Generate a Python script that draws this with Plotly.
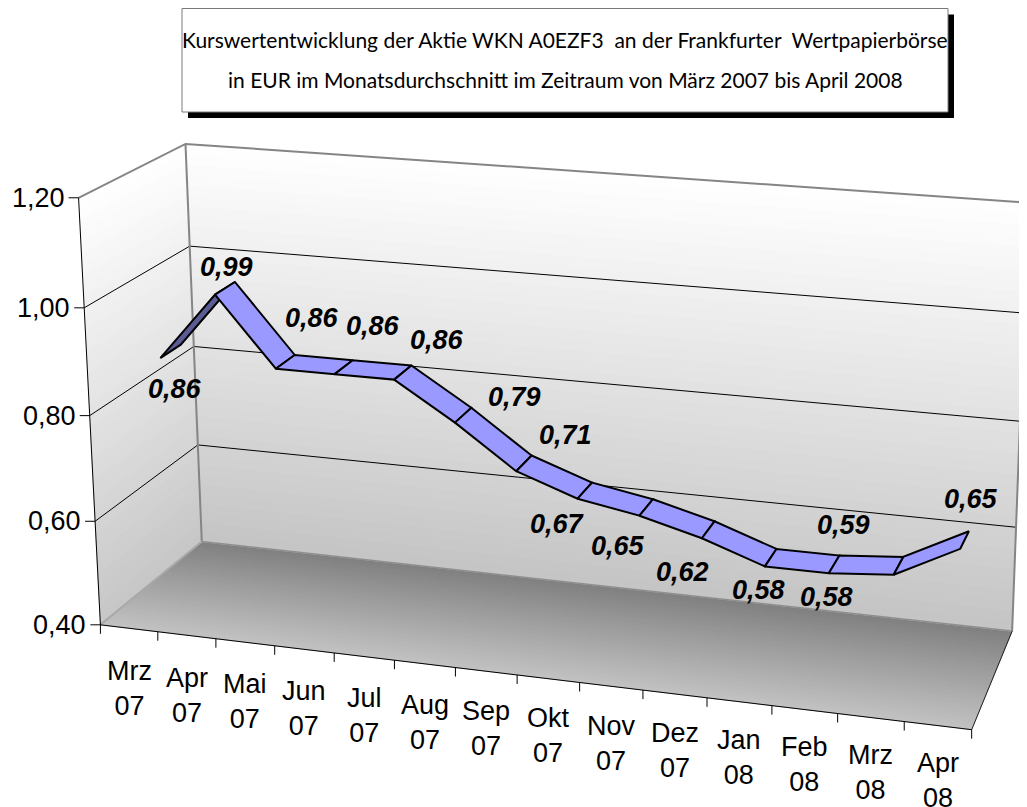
import numpy as np
import plotly.graph_objects as go

# ---------------- data ----------------
categories = ["Mrz 07", "Apr 07", "Mai 07", "Jun 07", "Jul 07", "Aug 07", "Sep 07",
              "Okt 07", "Nov 07", "Dez 07", "Jan 08", "Feb 08", "Mrz 08", "Apr 08"]
values = [0.86, 0.99, 0.86, 0.86, 0.86, 0.79, 0.71, 0.67, 0.65, 0.62, 0.58, 0.58, 0.59, 0.65]
value_ticks = [0.40, 0.60, 0.80, 1.00, 1.20]
title_line1 = "Kurswertentwicklung der Aktie WKN A0EZF3\u00a0 an der Frankfurter\u00a0 Wertpapierbörse"
title_line2 = "in EUR im Monatsdurchschnitt im Zeitraum von März 2007 bis April 2008"

# ---------------- layout / styling ----------------
W, H = 1027, 807
PAGE_OFF = 8                   # default page margin of the html body
VMIN, VMAX = value_ticks[0], value_ticks[-1]
NCAT = len(categories)
RIB_Z = (0.40, 0.60)          # depth band occupied by the ribbon
FONT = "Liberation Sans, Arial, sans-serif"
# label offsets (px) relative to ribbon centre
label_offsets = [(2, 38), (0, -21), (25, -44), (27, -41), (32, -33), (49, -18), (40, -28),
                 (-29, 33), (-30, 39), (-28, 42), (-14, 32), (-10, 33), (-57, -41), (4, -41)]

# 3-D box calibration: world (category pos, value, depth) -> screen pixel
calib_world = [(0, 0.4, 0), (0, 1.2, 0), (0, 1.0, 0), (0, 0.4, 1), (0, 1.2, 1), (0, 1.0, 1),
               (0, 0.6, 1), (14, 0.4, 0), (7, 0.4, 0), (14, 0.4, 1), (14, 0.6, 1), (14, 1.0, 1)]
calib_px = [(100, 625), (79, 198), (84, 308), (202, 541), (185, 143), (190, 247),
            (198, 445), (972, 729), (517, 675), (1012, 632), (1016, 527), (1024, 313)]


def norm_world(X, V, Z):
    return X / NCAT, (V - VMIN) / (VMAX - VMIN), Z


rows = []
for (X, V, Z), (u, w) in zip(calib_world, calib_px):
    a, b, c = norm_world(X, V, Z)
    u, w = u / 1000.0, w / 1000.0
    rows.append([a, b, c, 1, 0, 0, 0, 0, -u * a, -u * b, -u * c, -u])
    rows.append([0, 0, 0, 0, a, b, c, 1, -w * a, -w * b, -w * c, -w])
_, _, vt = np.linalg.svd(np.array(rows))
P = vt[-1].reshape(3, 4)


def proj(X, V, Z):
    a, b, c = norm_world(X, V, Z)
    r = P @ np.array([a, b, c, 1.0])
    return r[0] / r[2] * 1000.0, r[1] / r[2] * 1000.0


fig = go.Figure()


def poly(pts, fill, line_color=None, width=1.0):
    xs = [p[0] for p in pts] + [pts[0][0]]
    ys = [p[1] for p in pts] + [pts[0][1]]
    fig.add_trace(go.Scatter(x=xs, y=ys, mode="lines", fill="toself", fillcolor=fill,
                             line=dict(color=line_color or fill, width=width),
                             hoverinfo="skip", showlegend=False))


def seg(pts, color, width):
    fig.add_trace(go.Scatter(x=[p[0] for p in pts], y=[p[1] for p in pts], mode="lines",
                             line=dict(color=color, width=width),
                             hoverinfo="skip", showlegend=False))


def grey(level):
    g = int(round(level))
    return f"rgb({g},{g},{g})"


NS = 40
# floor (gradient along depth)
for k in range(NS):
    z0, z1 = k / NS, (k + 1) / NS
    col = grey(194 - (194 - 128) * (k + 0.5) / NS)
    poly([proj(0, VMIN, z0), proj(NCAT, VMIN, z0), proj(NCAT, VMIN, z1), proj(0, VMIN, z1)], col)
# back wall and left wall (gradient along value)
for k in range(NS):
    v0 = VMIN + (VMAX - VMIN) * k / NS
    v1 = VMIN + (VMAX - VMIN) * (k + 1) / NS
    col = grey(196 + (255 - 196) * (k + 0.5) / NS)
    poly([proj(0, v0, 1), proj(NCAT, v0, 1), proj(NCAT, v1, 1), proj(0, v1, 1)], col)
    col2 = grey(198 + (255 - 198) * (k + 0.5) / NS)
    poly([proj(0, v0, 0), proj(0, v0, 1), proj(0, v1, 1), proj(0, v1, 0)], col2)

# gridlines
for v in value_ticks[1:-1]:
    seg([proj(0, v, 0), proj(0, v, 1), proj(NCAT, v, 1)], "black", 1)

# box edges
edge_grey = "#858585"
seg([proj(0, VMAX, 0), proj(0, VMAX, 1), proj(NCAT, VMAX, 1)], edge_grey, 2)
seg([proj(0, VMIN, 1), proj(0, VMAX, 1)], edge_grey, 2)
seg([proj(NCAT, VMIN, 1), proj(NCAT, VMAX, 1)], edge_grey, 2)
seg([proj(0, VMIN, 0), proj(0, VMIN, 1)], "#a8a8a8", 2)
seg([proj(0, VMIN, 1), proj(NCAT, VMIN, 1)], "#8f8f8f", 1.5)
seg([proj(NCAT, VMIN, 0), proj(NCAT, VMIN, 1)], "#222222", 1)
# axes (front edges)
seg([proj(0, VMIN, 0), proj(0, VMAX, 0)], "black", 1)
seg([proj(0, VMIN, 0), proj(NCAT, VMIN, 0)], "black", 1)

# value ticks + labels
annotations = []
for v in value_ticks:
    u, w = proj(0, v, 0)
    seg([(u - 10, w), (u, w)], "black", 1)
    annotations.append(dict(x=u, y=w, xref="x", yref="y", text=f"{v:.2f}".replace(".", ","),
                            showarrow=False, xanchor="right", yanchor="middle", xshift=-12,
                            font=dict(family=FONT, size=27, color="black")))
# category ticks + labels
for i in range(NCAT + 1):
    u, w = proj(i, VMIN, 0)
    seg([(u, w), (u, w + 9)], "black", 1)
for i, c in enumerate(categories):
    u, w = proj(i + 0.5, VMIN, 0)
    drop = 20 + 6 * (1 - i / (NCAT - 1))
    annotations.append(dict(x=u, y=w, xref="x", yref="y", text=c.replace(" ", "<br>"),
                            showarrow=False, xanchor="center", yanchor="top", yshift=-drop,
                            align="center",
                            font=dict(family=FONT, size=27, color="black")))

# ribbon
front = [proj(i + 0.5, v, RIB_Z[0]) for i, v in enumerate(values)]
back = [proj(i + 0.5, v, RIB_Z[1]) for i, v in enumerate(values)]
for i in range(NCAT - 1):
    pts = [front[i], front[i + 1], back[i + 1], back[i]]
    area = 0.0
    for j in range(4):
        x1, y1 = pts[j]
        x2, y2 = pts[(j + 1) % 4]
        area += x1 * y2 - x2 * y1
    fill = "#9999ff" if area < 0 else "#5b5b96"
    poly(pts, fill, "black", 2)

# data labels
for i, v in enumerate(values):
    cx = (front[i][0] + back[i][0]) / 2
    cy = (front[i][1] + back[i][1]) / 2
    dx, dy = label_offsets[i]
    annotations.append(dict(x=cx, y=cy, xref="x", yref="y", text=f"{v:.2f}".replace(".", ","),
                            showarrow=False, xanchor="center", yanchor="middle",
                            xshift=dx + 2, yshift=-dy,
                            font=dict(family=FONT, size=27, color="black",
                                      weight="bold", style="italic")))

# title box
box = dict(x0=182, y0=8.5, x1=948, y1=112)
shapes = [
    dict(type="rect", xref="x", yref="y", x0=box["x0"] + 6, y0=box["y0"] + 6,
         x1=box["x1"] + 6, y1=box["y1"] + 6, fillcolor="black", line=dict(width=0), layer="below"),
    dict(type="rect", xref="x", yref="y", **box, fillcolor="white",
         line=dict(color="#7a7a7a", width=1), layer="below"),
]
tx = (box["x0"] + box["x1"]) / 2
annotations.append(dict(x=tx, y=39, xref="x", yref="y", text=title_line1, showarrow=False,
                        xanchor="center", yanchor="middle",
                        font=dict(family="Lato, sans-serif", size=21, color="black")))
annotations.append(dict(x=tx, y=79, xref="x", yref="y", text=title_line2, showarrow=False,
                        xanchor="center", yanchor="middle",
                        font=dict(family="Lato, sans-serif", size=21, color="black")))

fig.update_layout(
    width=W, height=H, margin=dict(l=0, r=0, t=0, b=0),
    paper_bgcolor="white", plot_bgcolor="white", showlegend=False,
    xaxis=dict(range=[PAGE_OFF, W + PAGE_OFF], visible=False, fixedrange=True),
    yaxis=dict(range=[H + PAGE_OFF, PAGE_OFF], visible=False, fixedrange=True),
    shapes=shapes, annotations=annotations,
)
fig.write_html("out.html")
